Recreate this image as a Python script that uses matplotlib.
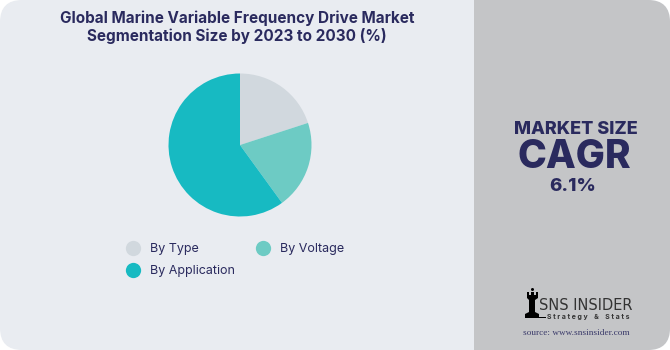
import matplotlib
matplotlib.use("Agg")
import matplotlib.pyplot as plt
from matplotlib.patches import FancyBboxPatch, Rectangle, Polygon, Circle
from matplotlib.lines import Line2D

# data
segments = ["By Type", "By Voltage", "By Application"]
shares = [20, 20, 60]
colors = ["#D1D8DE", "#6DCBC4", "#17BAC2"]
title = "Global Marine Variable Frequency Drive Market\nSegmentation Size by 2023 to 2030 (%)"
cagr = "6.1%"

NAVY = "#2A2A5E"
LEFT_BG = "#E9ECF1"
RIGHT_BG = "#C4C5C7"
plt.rcParams["font.family"] = ["Inter", "DejaVu Sans"]

W, H = 670, 350
fig = plt.figure(figsize=(W / 100, H / 100), dpi=100)
fig.patch.set_facecolor("white")

bg = fig.add_axes([0, 0, 1, 1])
bg.set_xlim(0, W); bg.set_ylim(H, 0); bg.axis("off")
bg.add_patch(FancyBboxPatch((0, 0), W, H, boxstyle="round,pad=0,rounding_size=22",
                            fc=LEFT_BG, ec="none"))
bg.add_patch(FancyBboxPatch((474, 0), W - 474, H, boxstyle="round,pad=0,rounding_size=22",
                            fc=RIGHT_BG, ec="none"))
bg.add_patch(Rectangle((474, 0), 30, H, fc=RIGHT_BG, ec="none"))

bg.text(237, 27.5, title, ha="center", va="center", fontsize=11, fontweight="bold",
        color=NAVY, linespacing=1.15)

# right panel
bg.text(576, 134, "MARKET SIZE", ha="center", va="baseline", fontsize=13,
        fontweight="heavy", color=NAVY)
bg.text(574, 168, "CAGR", ha="center", va="baseline", fontsize=28,
        fontweight="heavy", color=NAVY)
bg.text(573, 191, cagr, ha="center", va="baseline", fontsize=13.5,
        fontweight="heavy", color=NAVY)

# logo: simple rook
rook = [(527, 292), (529, 292), (529, 295), (531, 295), (531, 292), (534, 292), (534, 295),
        (536, 295), (536, 292), (538, 292), (538, 298), (535, 300), (535, 312),
        (539, 314), (539, 318), (525, 318), (525, 314), (529, 312), (529, 300), (527, 298)]
bg.add_patch(Polygon(rook, closed=True, fc="black", ec="none"))
bg.add_patch(Circle((532.5, 289.5), 1.5, fc="black", ec="none"))
bg.add_patch(Rectangle((539, 316.5), 7, 1.2, fc="black", ec="none"))
bg.text(539, 305, "SNS INSIDER", ha="left", va="center", fontsize=10.5,
        family=["Liberation Sans Narrow", "DejaVu Sans Condensed"], color="#333333")
bg.text(547, 317, "S t r a t e g y    &    S t a t s", ha="left", va="center", fontsize=5,
        fontweight="bold", color="#333333")
bg.text(576, 333, "source: www.snsinsider.com", ha="center", va="center", fontsize=6.7,
        family=["Liberation Serif", "DejaVu Serif"], color="#3A3A6A")

# pie
cx, cy, r = 240, 145, 71.5
ax = fig.add_axes([(cx - r) / W, (H - cy - r) / H, 2 * r / W, 2 * r / H])
ax.pie(shares, colors=colors, startangle=90, counterclock=False,
       wedgeprops=dict(linewidth=0))
ax.set_xlim(-1, 1); ax.set_ylim(-1, 1)

handles = [Line2D([], [], marker="o", ls="none", ms=11, mfc=c, mec="none") for c in colors]
order = [0, 2, 1]
fig.legend([handles[i] for i in order], [segments[i] for i in order], ncol=2,
           loc="upper left", bbox_to_anchor=(114 / W, 1 - 232 / H), frameon=False,
           fontsize=9, labelcolor=NAVY, handletextpad=0.8, columnspacing=1.6,
           labelspacing=0.8, handlelength=1.2)

fig.savefig("out.png", dpi=100, facecolor="white")
